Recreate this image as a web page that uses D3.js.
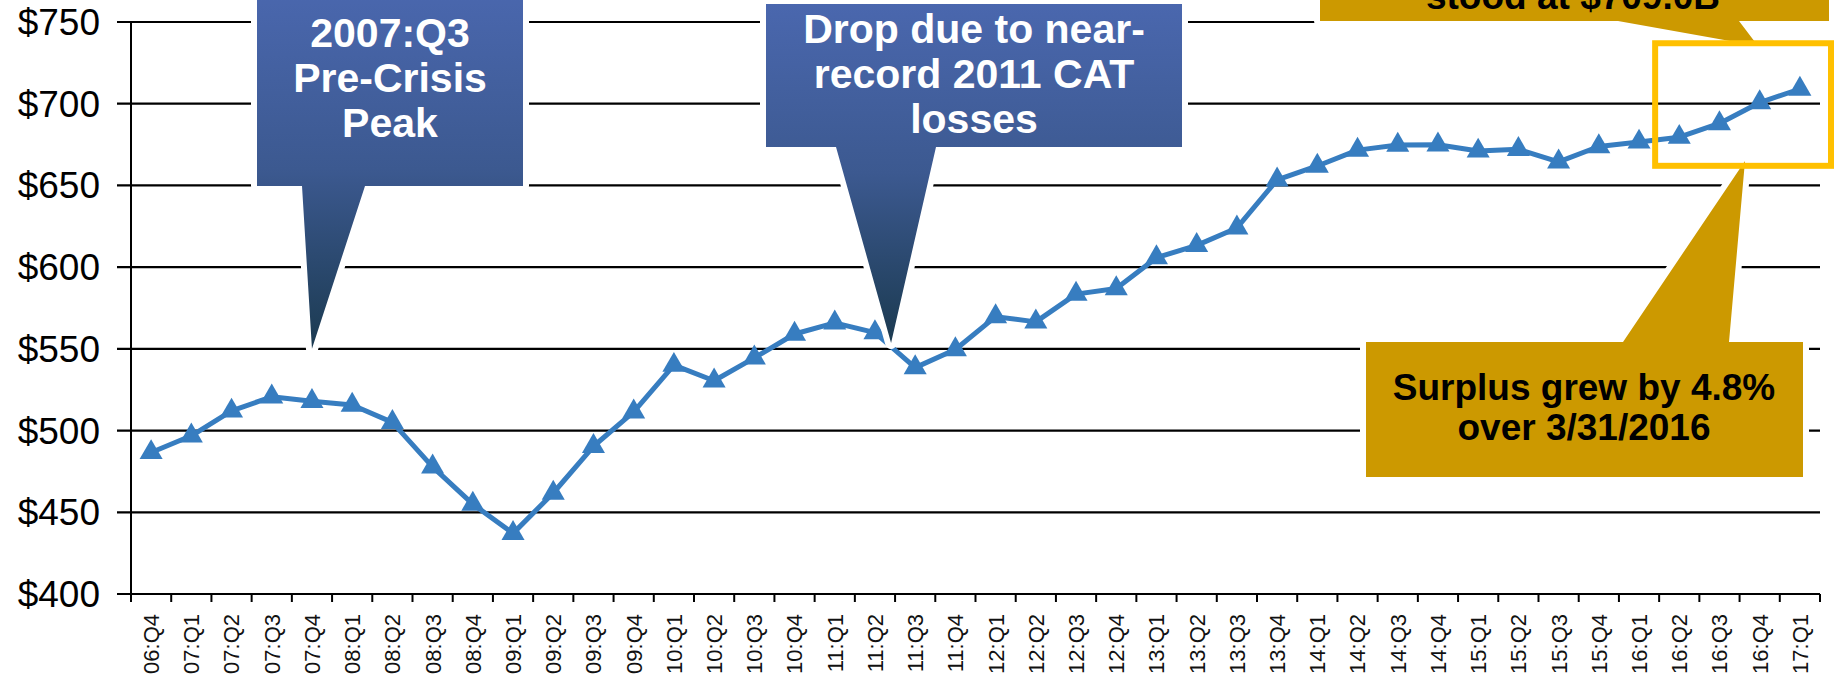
<!DOCTYPE html>
<html>
<head>
<meta charset="utf-8">
<script src="https://cdn.jsdelivr.net/npm/d3@7"></script>
<style>
  body { margin: 0; background: #fff; }
  svg { display: block; font-family: "Liberation Sans", Arial, sans-serif; }
</style>
</head>
<body>
<svg></svg>
<script>
var screen = {width: 1834, height: 674};
var margins = {top: 22, right: 14, bottom: 80, left: 131};

// quarters on the x axis
var quarters = ["06:Q4",
  "07:Q1", "07:Q2", "07:Q3", "07:Q4",
  "08:Q1", "08:Q2", "08:Q3", "08:Q4",
  "09:Q1", "09:Q2", "09:Q3", "09:Q4",
  "10:Q1", "10:Q2", "10:Q3", "10:Q4",
  "11:Q1", "11:Q2", "11:Q3", "11:Q4",
  "12:Q1", "12:Q2", "12:Q3", "12:Q4",
  "13:Q1", "13:Q2", "13:Q3", "13:Q4",
  "14:Q1", "14:Q2", "14:Q3", "14:Q4",
  "15:Q1", "15:Q2", "15:Q3", "15:Q4",
  "16:Q1", "16:Q2", "16:Q3", "16:Q4",
  "17:Q1"];

// policyholder surplus, $ billions
var surplus = [486.6,
  496.8, 512.0, 520.7, 517.9,
  515.6, 505.0, 477.8, 455.0,
  437.1, 461.8, 490.4, 511.5,
  540.0, 530.5, 544.5, 559.1,
  565.9, 559.9, 538.5, 549.6,
  569.7, 566.5, 583.5, 586.9,
  605.8, 613.3, 624.0, 653.4,
  661.9, 671.6, 674.7, 674.9,
  671.1, 672.1, 664.4, 673.8,
  676.6, 679.5, 687.9, 700.7,
  709.0];

var yTicks = [400, 450, 500, 550, 600, 650, 700, 750];

var notePeak = ["2007:Q3", "Pre-Crisis", "Peak"];
var noteDrop = ["Drop due to near-", "record 2011 CAT", "losses"];
var noteTop = ["stood at $709.0B"];
var noteGrow = ["Surplus grew by 4.8%", "over 3/31/2016"];

var data = quarters.map(function(q, i) { return {q: q, v: surplus[i]}; });

var svg = d3.select("svg")
  .attr("width", screen.width)
  .attr("height", screen.height);

svg.append("rect")
  .attr("width", screen.width)
  .attr("height", screen.height)
  .attr("fill", "#fff");

var xScale = d3.scaleBand()
  .domain(quarters)
  .range([margins.left, screen.width - margins.right]);

var yScale = d3.scaleLinear()
  .domain([400, 750])
  .range([screen.height - margins.bottom, margins.top]);

var x0 = margins.left, x1 = screen.width - margins.right;

// grid lines + left ticks
svg.append("g").attr("id", "grid")
  .selectAll("line")
  .data(yTicks)
  .enter()
  .append("line")
  .attr("x1", x0 - 14)
  .attr("x2", x1)
  .attr("y1", function(d) { return yScale(d); })
  .attr("y2", function(d) { return yScale(d); })
  .attr("stroke", "#000")
  .attr("stroke-width", 2.2);

svg.append("g").attr("id", "ylabels")
  .selectAll("text")
  .data(yTicks)
  .enter()
  .append("text")
  .attr("x", 100)
  .attr("y", function(d) { return yScale(d); })
  .attr("dy", "0.35em")
  .attr("text-anchor", "end")
  .attr("font-size", 37)
  .attr("fill", "#000")
  .text(function(d) { return "$" + d; });

// y axis line
svg.append("line")
  .attr("x1", x0).attr("x2", x0)
  .attr("y1", yScale(750)).attr("y2", yScale(400))
  .attr("stroke", "#000")
  .attr("stroke-width", 2);

// x ticks on band edges
var edges = quarters.map(function(q) { return xScale(q); }).concat([x1]);
svg.append("g").attr("id", "xticks")
  .selectAll("line")
  .data(edges)
  .enter()
  .append("line")
  .attr("x1", function(d) { return d; })
  .attr("x2", function(d) { return d; })
  .attr("y1", yScale(400))
  .attr("y2", yScale(400) + 8)
  .attr("stroke", "#000")
  .attr("stroke-width", 2);

svg.append("g").attr("id", "xlabels")
  .selectAll("text")
  .data(quarters)
  .enter()
  .append("text")
  .attr("transform", function(d) {
    return "translate(" + (xScale(d) + xScale.bandwidth() / 2) + "," + (yScale(400) + 20) + ") rotate(-90)";
  })
  .attr("dy", "0.36em")
  .attr("text-anchor", "end")
  .attr("font-size", 22)
  .attr("fill", "#111")
  .text(function(d) { return d; });

// the series
var lineGenerator = d3.line()
  .x(function(d) { return xScale(d.q) + xScale.bandwidth() / 2; })
  .y(function(d) { return yScale(d.v); });

svg.append("path")
  .datum(data)
  .attr("d", lineGenerator)
  .attr("fill", "none")
  .attr("stroke", "#377DC0")
  .attr("stroke-width", 5)
  .attr("stroke-linejoin", "round");

svg.append("g").attr("id", "markers")
  .selectAll("path")
  .data(data)
  .enter()
  .append("path")
  .attr("d", d3.symbol().type(d3.symbolTriangle).size(230))
  .attr("transform", function(d) {
    return "translate(" + (xScale(d.q) + xScale.bandwidth() / 2) + "," + yScale(d.v) + ")";
  })
  .attr("fill", "#377DC0");

// callouts
var defs = svg.append("defs");
var grad = defs.append("linearGradient")
  .attr("id", "blueGrad")
  .attr("x1", 0).attr("y1", 0).attr("x2", 0).attr("y2", 1);
grad.append("stop").attr("offset", "0%").attr("stop-color", "#4A67AE");
grad.append("stop").attr("offset", "50%").attr("stop-color", "#3C5990");
grad.append("stop").attr("offset", "100%").attr("stop-color", "#1B3A50");

var callout = function(pts, fill) {
  svg.append("path")
    .attr("d", d3.line()(pts) + "Z")
    .attr("fill", fill)
    .attr("stroke", "#fff")
    .attr("stroke-width", 12)
    .attr("stroke-linejoin", "round")
    .style("paint-order", "stroke");
};

var noteText = function(lines, cx, y0, step, size, color) {
  var t = svg.append("text")
    .attr("text-anchor", "middle")
    .attr("font-weight", "bold")
    .attr("font-size", size)
    .attr("fill", color);
  lines.forEach(function(s, i) {
    t.append("tspan").attr("x", cx).attr("y", y0 + i * step).text(s);
  });
};

var peakX = xScale("07:Q4") + xScale.bandwidth() / 2;
var dropX = xScale("11:Q3") - 4;

callout([[257, -10], [523, -10], [523, 186], [365, 186], [peakX, yScale(550)], [302, 186], [257, 186]], "url(#blueGrad)");
noteText(notePeak, 390, 47, 45, 41, "#fff");

callout([[766, 4], [1182, 4], [1182, 147], [936, 147], [dropX, 343], [836, 147], [766, 147]], "url(#blueGrad)");
noteText(noteDrop, 974, 43, 45, 41, "#fff");

callout([[1320, -10], [1829, -10], [1829, 21], [1739, 21], [1758, 46], [1618, 21], [1320, 21]], "#CC9900");
noteText(noteTop, 1573, 8.5, 40, 37, "#000");

callout([[1366, 342], [1623, 342], [1745, 161], [1729, 342], [1803, 342], [1803, 477], [1366, 477]], "#CC9900");
noteText(noteGrow, 1584, 400, 40, 37, "#000");

// highlight box around the latest quarters
svg.append("rect")
  .attr("x", xScale("16:Q2") - 4)
  .attr("y", yScale(737))
  .attr("width", x1 + 11 - (xScale("16:Q2") - 4))
  .attr("height", yScale(662) - yScale(737))
  .attr("fill", "none")
  .attr("stroke", "#FFC000")
  .attr("stroke-width", 6);
</script>
</body>
</html>
